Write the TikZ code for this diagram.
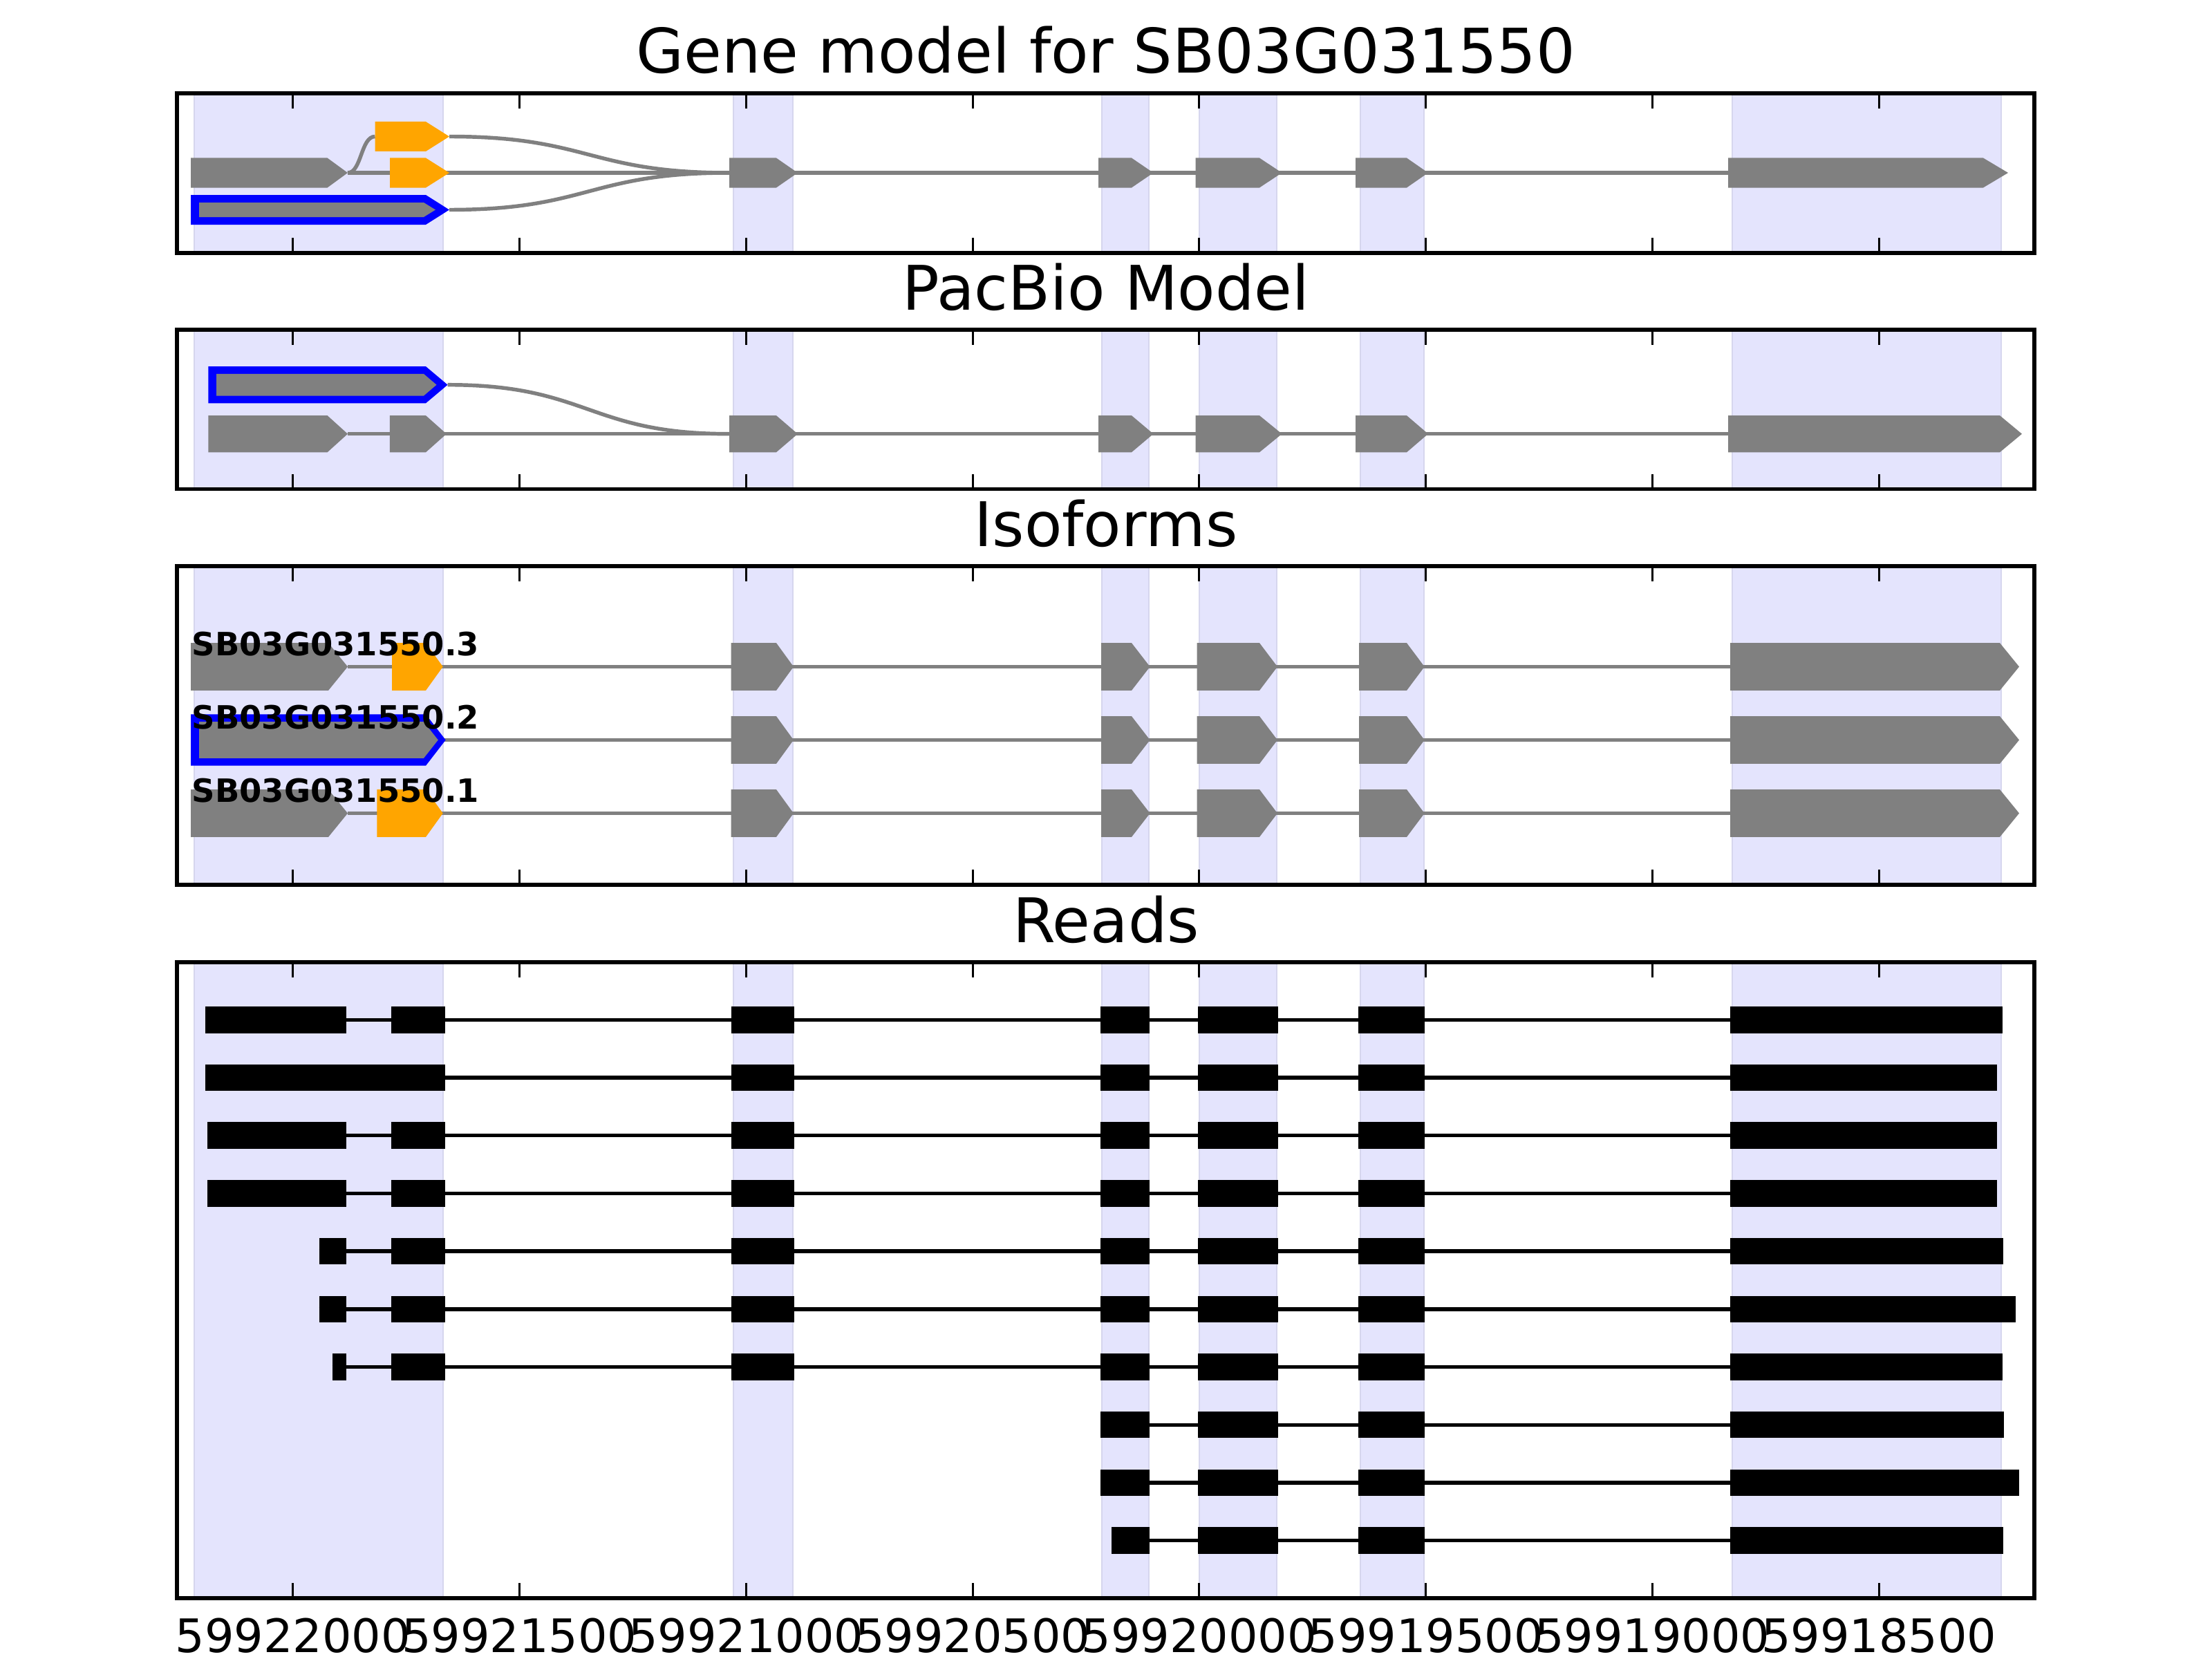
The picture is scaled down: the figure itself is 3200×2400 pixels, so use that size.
\documentclass[tikz,border=0pt]{standalone}
\usepackage{fontspec}
\setmainfont{DejaVu Sans}
\definecolor{gm}{HTML}{808080}
\definecolor{og}{HTML}{FFA500}
\definecolor{bl}{HTML}{0000FF}
\definecolor{spanfill}{RGB}{228,228,253}
\definecolor{spanedge}{RGB}{214,214,238}
\newcommand\gex[6]{\fill[#1] (#2,#5-#6) -- (#3,#5-#6) -- (#4,#5) -- (#3,#5+#6) -- (#2,#5+#6) -- cycle;}
\newcommand\rbx[3]{\fill[black] (#1,#3-19.25) rectangle (#2,#3+19.25);}
\tikzset{
  frame/.style={draw=black,line width=1.45pt},
  tickmark/.style={draw=black,line width=0.85pt},
  intron/.style={draw=gm,line width=1.55pt},
  readline/.style={draw=black,line width=1.55pt},
  ttl/.style={font=\fontsize{25.3}{30}\selectfont,anchor=base,inner sep=0pt},
  ticklab/.style={font=\fontsize{19}{22}\selectfont,anchor=base,inner sep=0pt},
  isolab/.style={font=\fontsize{13.2}{15}\selectfont\bfseries,anchor=base west,inner sep=0pt},
  spanbox/.style={fill=spanfill,draw=spanedge,line width=0.6pt}
}
\begin{document}
\begin{tikzpicture}[x=0.01cm,y=-0.01cm]
\useasboundingbox (0,0) rectangle (3200,2400);
% shaded exon regions
\foreach \t/\b in {135/366,477/707.5,819/1280,1392/2312}{
  \foreach \l/\r in {281/641,1061/1147,1594/1662,1735/1847,1968/2060,2506/2895}{
    \filldraw[spanbox] (\l,\t) rectangle (\r,\b);
  }
}
% ---------------- Panel 1: gene model ----------------
\node[ttl] (t1) at (1600,106) {Gene model for SB03G031550};
\draw[intron] (503,250) -- (2500,250);
\draw[intron] (503,250) .. controls (523,250) and (522,197.5) .. (542.5,197.5);
\draw[intron] (650,197.5) .. controls (852,197.5) and (852,250) .. (1055,250);
\draw[intron] (650,303.5) .. controls (852,303.5) and (852,250) .. (1055,250);
\gex{gm}{276}{473.6}{503}{250}{21.5}
\gex{og}{542.5}{616}{650}{197.5}{21.5}
\gex{og}{564}{616}{650}{250}{21.5}
\gex{bl}{276}{616}{650}{303.5}{21.5}
\gex{gm}{288}{613}{630}{303.5}{10.5}
\gex{gm}{1055}{1123}{1154}{250}{21.5}
\gex{gm}{1589}{1637}{1668.5}{250}{21.5}
\gex{gm}{1729.6}{1822}{1854.5}{250}{21.5}
\gex{gm}{1961}{2035}{2066}{250}{21.5}
\gex{gm}{2500}{2869}{2905}{250}{21.5}
% ---------------- Panel 2: PacBio ----------------
\node[ttl] (t2) at (1600,448) {PacBio Model};
\draw[intron] (503,627.7) -- (2500,627.7);
\draw[intron] (647.6,556.7) .. controls (851,556.7) and (851,627.7) .. (1055,627.7);
\gex{bl}{301.4}{616}{647.6}{556.7}{26.6}
\gex{gm}{313}{613}{631.5}{556.7}{15.8}
\gex{gm}{301.4}{473.6}{503}{627.7}{26.6}
\gex{gm}{563.8}{616}{645.9}{627.7}{26.6}
\gex{gm}{1055}{1123}{1154}{627.7}{26.6}
\gex{gm}{1589}{1637}{1668.5}{627.7}{26.6}
\gex{gm}{1729.6}{1822}{1854.5}{627.7}{26.6}
\gex{gm}{1961}{2035}{2066}{627.7}{26.6}
\gex{gm}{2500}{2893}{2925}{627.7}{26.6}
% ---------------- Panel 3: isoforms ----------------
\node[ttl] (t3) at (1600,790) {Isoforms};
\foreach \yc in {964.5,1070.5,1176.5}{
  \draw[intron] (503,\yc) -- (2503,\yc);
  \gex{gm}{1057.5}{1123}{1148}{\yc}{34.4}
  \gex{gm}{1593}{1637}{1663.6}{\yc}{34.4}
  \gex{gm}{1731.7}{1822}{1848}{\yc}{34.4}
  \gex{gm}{1966}{2035}{2060.7}{\yc}{34.4}
  \gex{gm}{2503}{2893}{2921}{\yc}{34.4}
}
\gex{gm}{276}{475}{503}{964.5}{34.4}
\gex{og}{567}{616}{640.7}{964.5}{34.4}
\gex{bl}{276}{616}{644.7}{1070.5}{37.2}
\gex{gm}{288}{613}{633.8}{1070.5}{26.3}
\gex{gm}{276}{475}{503}{1176.5}{34.4}
\gex{og}{545.4}{616}{640.7}{1176.5}{34.4}
\node[isolab] (l3) at (277,948.5) {SB03G031550.3};
\node[isolab] (l2) at (277,1054.5) {SB03G031550.2};
\node[isolab] (l1) at (277,1160.5) {SB03G031550.1};
% ---------------- Panel 4: reads ----------------
\node[ttl] (t4) at (1600,1363) {Reads};
% rows with full 5' structure
\foreach \i/\a/\b/\e in {0/297.4/501/2896.7, 2/300/501/2888.7, 3/300/501/2888.7, 4/461.7/500.9/2897.5, 5/461.7/500.9/2915.5, 6/480.7/500.9/2896.7}{
  \pgfmathsetmacro\yc{1475.3+83.7*\i}
  \draw[readline] (\a,\yc) -- (2503,\yc);
  \rbx{\a}{\b}{\yc}
  \rbx{566}{643.6}{\yc}
  \rbx{1057.5}{1149.4}{\yc}
  \rbx{1592}{1663}{\yc}
  \rbx{1733}{1849}{\yc}
  \rbx{1965}{2061}{\yc}
  \rbx{2503}{\e}{\yc}
}
% row 1: continuous first exon
\pgfmathsetmacro\yc{1475.3+83.7}
\draw[readline] (643.6,\yc) -- (2503,\yc);
\rbx{297.4}{643.6}{\yc}
\rbx{1057.5}{1149.4}{\yc}
\rbx{1592}{1663}{\yc}
\rbx{1733}{1849}{\yc}
\rbx{1965}{2061}{\yc}
\rbx{2503}{2888.7}{\yc}
% rows starting at exon 4
\foreach \i/\a/\e in {7/1592/2898.7, 8/1592/2920.8, 9/1608/2897.5}{
  \pgfmathsetmacro\yc{1475.3+83.7*\i}
  \draw[readline] (\a,\yc) -- (2503,\yc);
  \rbx{\a}{1663}{\yc}
  \rbx{1733}{1849}{\yc}
  \rbx{1965}{2061}{\yc}
  \rbx{2503}{\e}{\yc}
}
% ---------------- ticks and frames ----------------
\foreach \t/\b in {135/366,477/707.5,819/1280,1392/2312}{
  \foreach \k in {0,...,7}{
    \draw[tickmark] ({423.7+327.8*\k},\t) -- ++(0,22);
    \draw[tickmark] ({423.7+327.8*\k},\b) -- ++(0,-22);
  }
  \draw[frame] (256,\t) rectangle (2943,\b);
}
\foreach \k/\lab in {0/59922000,1/59921500,2/59921000,3/59920500,4/59920000,5/59919500,6/59919000,7/59918500}{
  \node[ticklab] (x\k) at ({423.7+327.8*\k},2390) {\lab};
}
\end{tikzpicture}
\end{document}
